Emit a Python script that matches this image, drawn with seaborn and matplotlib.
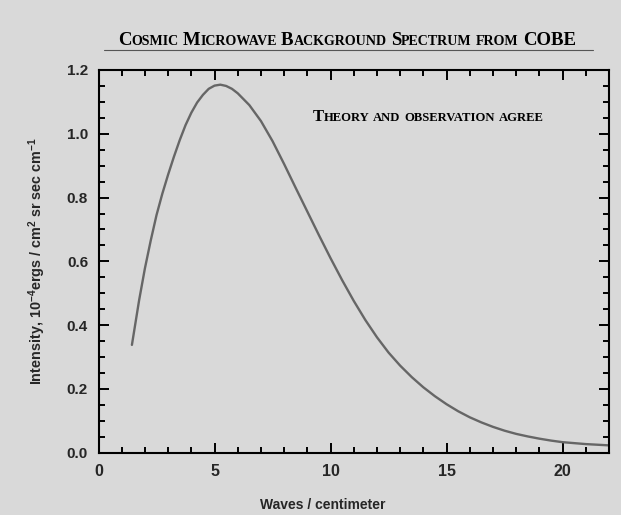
import matplotlib
matplotlib.use("Agg")
import matplotlib.pyplot as plt
import seaborn as sns
import pandas as pd
from matplotlib.ticker import MultipleLocator, FixedLocator
from matplotlib.lines import Line2D

# ---- data ----
waves = [1.44, 1.75, 2.0, 2.25, 2.5, 2.75, 3.0, 3.25, 3.5, 3.75, 4.0, 4.25,
         4.5, 4.75, 5.0, 5.25, 5.5, 5.75, 6.0, 6.5, 7.0, 7.5, 8.0, 8.5, 9.0,
         9.5, 10.0, 10.5, 11.0, 11.5, 12.0, 12.5, 13.0, 13.5, 14.0, 14.5,
         15.0, 15.5, 16.0, 16.5, 17.0, 17.5, 18.0, 18.5, 19.0, 19.5, 20.0,
         21.0, 22.0]
intensity = [0.338, 0.478, 0.578, 0.665, 0.745, 0.812, 0.872, 0.928, 0.980,
             1.027, 1.066, 1.098, 1.122, 1.141, 1.151, 1.154, 1.150, 1.141,
             1.127, 1.090, 1.040, 0.977, 0.905, 0.830, 0.756, 0.682, 0.610,
             0.541, 0.476, 0.416, 0.362, 0.314, 0.273, 0.237, 0.205, 0.177,
             0.152, 0.130, 0.111, 0.095, 0.081, 0.069, 0.059, 0.051, 0.044,
             0.038, 0.033, 0.027, 0.023]
x_ticks = [0, 5, 10, 15, 20]
x_tick_labels = ["0", "5", "10", "15", "20"]
y_ticks = [0.0, 0.2, 0.4, 0.6, 0.8, 1.0, 1.2]
y_tick_labels = ["0.0", "0.2", "0.4", "0.6", "0.8", "1.0", "1.2"]
title_text = "Cosmic Microwave Background Spectrum from COBE"
note_text = "Theory and observation agree"
x_label = "Waves / centimeter"
y_label = r"Intensity, 10$^{-4}$ergs / cm$^{2}$ sr sec cm$^{-1}$"

BG = "#d9d9d9"
W, H = 621, 515

sns.set_theme(style="ticks")
plt.rcParams["font.family"] = ["Liberation Sans", "DejaVu Sans"]
plt.rcParams["mathtext.fontset"] = "custom"
plt.rcParams["mathtext.rm"] = "Liberation Sans:bold"
plt.rcParams["mathtext.bf"] = "Liberation Sans:bold"
plt.rcParams["mathtext.default"] = "bf"

fig = plt.figure(figsize=(W / 100, H / 100), dpi=100, facecolor=BG)
ax = fig.add_axes([98.5 / W, 1 - 452.7 / H, (609 - 98.5) / W, (452.7 - 70) / H])
ax.set_facecolor(BG)

df = pd.DataFrame({"waves": waves, "intensity": intensity})
sns.lineplot(data=df, x="waves", y="intensity", ax=ax, color="#666666",
             linewidth=1.7, sort=False)

ax.set_xlim(0, 22)
ax.set_ylim(0, 1.2)
ax.xaxis.set_major_locator(FixedLocator(x_ticks))
ax.set_xticklabels(x_tick_labels)
ax.yaxis.set_major_locator(FixedLocator(y_ticks))
ax.set_yticklabels(y_tick_labels)
ax.xaxis.set_minor_locator(MultipleLocator(1))
ax.yaxis.set_minor_locator(MultipleLocator(0.05))

for s in ax.spines.values():
    s.set_visible(True)
    s.set_linewidth(1.5)
    s.set_color("black")

ax.tick_params(which="both", direction="in", top=True, right=True,
               color="black", width=1.4)
ax.tick_params(which="major", length=7.2)
ax.tick_params(which="minor", length=4.3)
ax.tick_params(axis="y", which="major", pad=7.5, labelsize=11)
ax.tick_params(axis="x", which="major", pad=8, labelsize=11.5)
for lab in ax.get_xticklabels() + ax.get_yticklabels():
    lab.set_fontweight("bold")

ax.set_xlabel(x_label, fontsize=10, fontweight="bold")
ax.set_ylabel(y_label, fontsize=10.4, fontweight="bold")
ax.xaxis.set_label_coords((323 - 98.5) / 510.5, (452.7 - 498) / 382.7)
ax.yaxis.label.set_va("center")
ax.yaxis.set_label_coords((37 - 98.5) / 510.5, 0.5)

renderer = fig.canvas.get_renderer()


def small_caps(x_px, y_px, text, big, small):
    x = x_px
    space = small * 0.30 * fig.dpi / 72
    for word in text.split(" "):
        runs = []
        for ch in word:
            isbig = ch.isupper()
            if runs and runs[-1][1] == isbig:
                runs[-1][0] += ch.upper()
            else:
                runs.append([ch.upper(), isbig])
        for txt, isbig in runs:
            t = fig.text(x / W, 1 - y_px / H, txt, fontsize=big if isbig else small,
                         family=["Liberation Serif", "DejaVu Serif"], weight="bold",
                         ha="left", va="baseline", color="black")
            x += t.get_window_extent(renderer).width
        x += space
    return x


small_caps(118, 45, title_text, 13.5, 10.1)
fig.add_artist(Line2D([103.5 / W, 593 / W], [1 - 49.5 / H, 1 - 49.5 / H],
                      color="#555555", linewidth=0.8))
small_caps(312.7, 120.7, note_text, 12.0, 9.1)

fig.savefig("out.png", dpi=100, facecolor=BG)
